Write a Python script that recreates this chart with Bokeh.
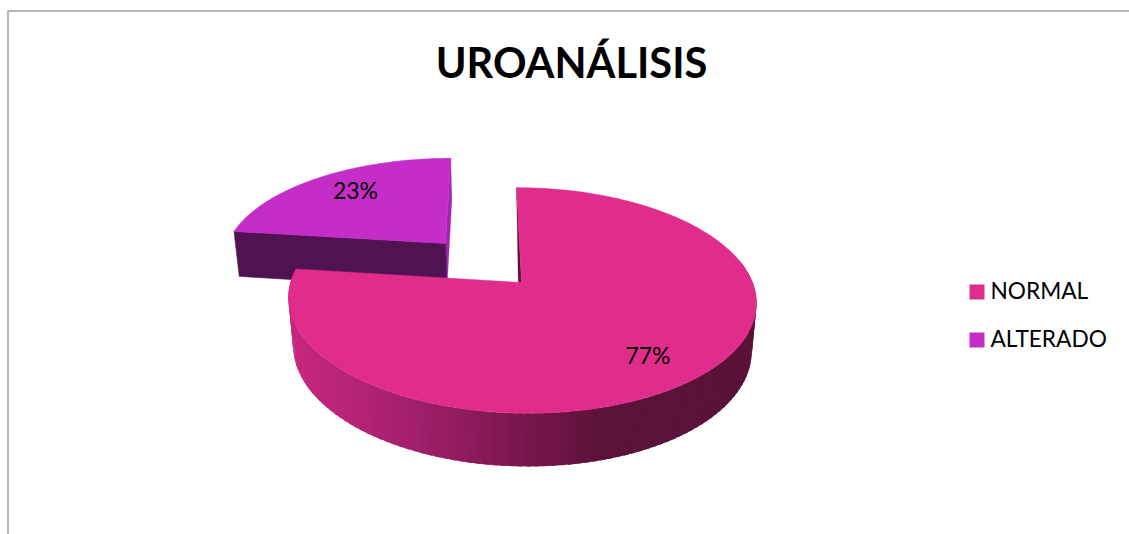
import math

from bokeh.core.properties import value
from bokeh.embed import file_html
from bokeh.models import ColumnDataSource, Range1d
from bokeh.plotting import figure
from bokeh.resources import INLINE

# Chart content
title_text = "UROANÁLISIS"
categories = ["NORMAL", "ALTERADO"]
percentages = [77, 23]
face_colors = ["#E02D8C", "#C42DC8"]
label_font = "Lato"

# Perspective model of the tilted disc
CX, CY = 521.0, 282.0
AX, BY = 231.0, 110.0
SHEAR = -5.8
PERSP_V, PERSP_U, PERSP_Z = 0.159, 0.0, 0.02
DEPTH = 48.4
EXPLODE_U, EXPLODE_V = -0.339, 0.376

# Shade of the rim from left to right along the screen
RIM_STOPS = [(288, "#C8297F"), (400, "#A82070"), (520, "#7C1650"), (610, "#5A1238"), (756, "#5A1238")]
DARK_WALL = "#4E1350"
PURPLE_EDGE = "#A028AC"
CUT_SLIVER = "#5A1238"


def project(u, v, z=0.0):
    w = 1 + PERSP_V * v + PERSP_U * u + PERSP_Z * z
    return CX + (AX * u + SHEAR * v) / w, CY + (-BY * v + DEPTH * z) / w


def point(theta_deg, radius=1.0, du=0.0, dv=0.0, z=0.0):
    t = math.radians(theta_deg)
    return project(du + radius * math.sin(t), dv + radius * math.cos(t), z)


def arc(start, end, du=0.0, dv=0.0, z=0.0, n=160):
    return [point(start + (end - start) * i / n, du=du, dv=dv, z=z) for i in range(n + 1)]


def rim_color(x):
    for (x0, c0), (x1, c1) in zip(RIM_STOPS, RIM_STOPS[1:]):
        if x <= x1:
            f = max(0.0, (x - x0) / (x1 - x0))
            parts = [int(c0[i:i + 2], 16) * (1 - f) + int(c1[i:i + 2], 16) * f for i in (1, 3, 5)]
            return "#%02X%02X%02X" % tuple(round(c) for c in parts)
    return RIM_STOPS[-1][1]


def poly(fig, pts, color, line=0.6):
    fig.patch([q[0] for q in pts], [q[1] for q in pts], fill_color=color, line_color=color, line_width=line)


# Slice sweep comes from the percentages, clockwise from twelve o'clock
sweep = 360.0 * percentages[0] / sum(percentages)

p = figure(width=1129, height=534, output_backend="svg", toolbar_location=None,
           x_range=Range1d(0, 1129), y_range=Range1d(534, 0), min_border=0)
p.axis.visible = False
p.grid.visible = False
p.outline_line_color = None
p.background_fill_color = "#FFFFFF"
p.border_fill_color = "#FFFFFF"

# Chart area border: top and left edges only
p.line([7.5, 7.5, 1129], [534, 10.5, 10.5], line_color="#A0A0A0", line_width=1.5)

# Exploded slice: cut walls, then its top face
du, dv = EXPLODE_U, EXPLODE_V
apex = project(du, dv)
apex_low = project(du, dv, 1)
poly(p, [apex, point(360, du=du, dv=dv), point(360, du=du, dv=dv, z=1), apex_low], PURPLE_EDGE, line=0.3)
poly(p, [point(sweep, du=du, dv=dv), apex, apex_low, point(sweep, du=du, dv=dv, z=1)], DARK_WALL)
poly(p, [apex] + arc(sweep, 360, du, dv), face_colors[1])

# Main slice: shaded rim strips, each overlapping the next so no seams show
steps = 110
start_rim, end_rim = 78.0, sweep
xs, ys, cols = [], [], []
for i in reversed(range(steps)):
    a0 = start_rim + (end_rim - start_rim) * i / steps
    a1 = min(end_rim, start_rim + (end_rim - start_rim) * (i + 1.6) / steps)
    q = [point(a0), point(a1), point(a1, z=1), point(a0, z=1)]
    xs.append([c[0] for c in q])
    ys.append([c[1] for c in q])
    cols.append(rim_color(sum(c[0] for c in q) / 4))
rim = ColumnDataSource(dict(xs=xs, ys=ys, color=cols))
p.patches("xs", "ys", source=rim, fill_color="color", line_color=None)

# Thin visible edge of the cut at twelve o'clock
top = point(0)
centre = project(0, 0)
poly(p, [top, centre, (centre[0] - 3.2, centre[1])], CUT_SLIVER, line=0.3)

# Main slice top face
poly(p, [centre] + arc(0, sweep), face_colors[0], line=0.4)

# Percent labels
p.text([647.5, 355], [354.5, 189.5], text=[f"{percentages[0]}%", f"{percentages[1]}%"],
       text_font=value(label_font), text_font_size="23px", text_color="#000000",
       text_align="center", text_baseline="middle")

# Title
p.text([571], [61], text=[title_text], text_font=value(label_font), text_font_style="bold",
       text_font_size="41.6px", text_color="#000000", text_align="center", text_baseline="middle")

# Legend
legend_y = [291.5, 339.5]
text_y = [290, 338]
p.rect([976.5, 976.5], legend_y, width=15, height=15, fill_color=face_colors, line_color=None)
p.text([990, 990], text_y, text=categories, text_font=value(label_font), text_font_size="22.7px",
       text_color="#000000", text_align="left", text_baseline="middle")

open("out.html", "w").write(file_html(p, INLINE))
